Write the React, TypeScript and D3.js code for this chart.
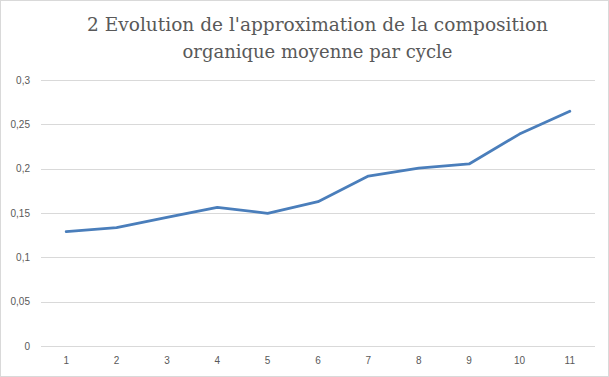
import React from "react";
import * as d3 from "d3";

const categories = ["1", "2", "3", "4", "5", "6", "7", "8", "9", "10", "11"];
const values = [0.129, 0.1335, 0.145, 0.1564, 0.1496, 0.1628, 0.1917, 0.2007, 0.2053, 0.239, 0.2647];
const yTicks = [0, 0.05, 0.1, 0.15, 0.2, 0.25, 0.3];
const titleLines = ["2 Evolution de l'approximation de la composition", "organique moyenne par cycle"];
const titleWidths = [461, 270];

export default function App() {
  const W = 609, H = 377;
  const left = 41, right = 595, top = 80, bottom = 346;
  const x = d3.scaleBand().domain(categories).range([left, right]);
  const y = d3.scaleLinear().domain([0, 0.3]).range([bottom, top]);
  const line = d3.line<number>()
    .x((_, i) => (x(categories[i]) as number) + x.bandwidth() / 2)
    .y((d) => y(d));
  const fmt = (v: number) => (v === 0 ? "0" : String(+v.toFixed(2)).replace(".", ","));
  const titleCenter = 317.5;
  return (
    <svg width={W} height={H} style={{ position: "absolute", left: 0, top: 0, background: "#fff" }}>
      <rect x={0.5} y={0.5} width={W - 1} height={H - 1} fill="#fff" stroke="#d9d9d9" />
      {titleLines.map((t, i) => (
        <text key={i} x={titleCenter - titleWidths[i] / 2} y={31 + i * 27} textAnchor="start" fontFamily="DejaVu Serif" fontSize={19} fill="#595959"
          textLength={titleWidths[i]} lengthAdjust="spacingAndGlyphs">{t}</text>
      ))}
      {yTicks.map((t) => (
        <g key={t}>
          <line x1={left} x2={right} y1={Math.round(y(t)) + 0.5} y2={Math.round(y(t)) + 0.5} stroke="#d9d9d9" />
          <text x={30} y={y(t) + 3.5} textAnchor="end" fontFamily="Liberation Sans" fontSize={10} fill="#595959">{fmt(t)}</text>
        </g>
      ))}
      {categories.map((c) => (
        <text key={c} x={(x(c) as number) + x.bandwidth() / 2} y={364} textAnchor="middle" fontFamily="Liberation Sans" fontSize={10} fill="#595959">{c}</text>
      ))}
      <path d={line(values) || ""} fill="none" stroke="#4a7ebb" strokeWidth={2.75} strokeLinejoin="round" strokeLinecap="round" />
    </svg>
  );
}
